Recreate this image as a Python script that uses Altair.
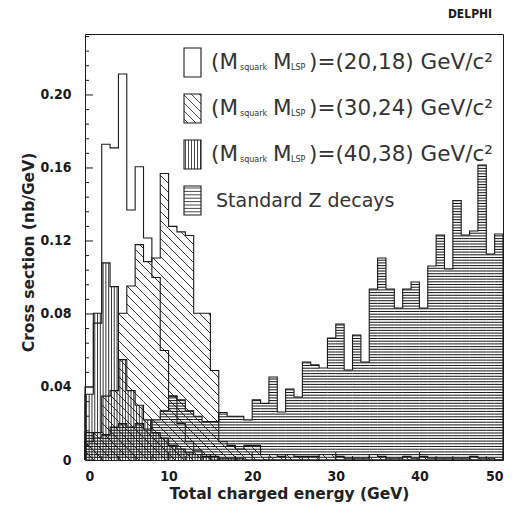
import altair as alt
import pandas as pd

# ---------------- data: cross section (nb/GeV) in 1 GeV bins starting at 0..49 GeV
bin_start = list(range(50))

z_decays = [0.015, 0.012, 0.014, 0.018, 0.020, 0.018, 0.020, 0.017, 0.022, 0.027,
            0.035, 0.033, 0.027, 0.024, 0.021, 0.021, 0.026, 0.024, 0.024, 0.022,
            0.033, 0.031, 0.0455, 0.0263, 0.0389, 0.0345, 0.0537, 0.0521, 0.0504, 0.0668,
            0.0745, 0.0493, 0.0685, 0.0537, 0.0937, 0.1107, 0.0937, 0.0833, 0.0937, 0.0975,
            0.0833, 0.1063, 0.1233, 0.1047, 0.1421, 0.1233, 0.1255, 0.1616, 0.1129, 0.1238]

sq_20_18 = [0.040, 0.075, 0.173, 0.171, 0.2115, 0.137, 0.1607, 0.1216, 0.100, 0.060,
            0.035, 0.020, 0.010, 0.005, 0.003, 0, 0, 0, 0, 0,
            0, 0, 0, 0, 0, 0, 0, 0, 0, 0,
            0, 0, 0, 0, 0, 0, 0, 0, 0, 0,
            0, 0, 0, 0, 0, 0, 0, 0, 0, 0]

sq_30_24 = [0.010, 0.015, 0.035, 0.038, 0.0804, 0.0953, 0.118, 0.1087, 0.1107, 0.157,
            0.128, 0.125, 0.123, 0.0804, 0.0804, 0.049, 0.010, 0.008, 0.006, 0.008,
            0.008, 0.003, 0.003, 0.002, 0.003, 0.002, 0.002, 0.002, 0.003, 0.003,
            0.002, 0.001, 0.001, 0.001, 0.003, 0.002, 0.001, 0.001, 0.002, 0.001,
            0.002, 0.001, 0.001, 0.001, 0.001, 0.001, 0.002, 0.001, 0.001, 0.0]

sq_40_38 = [0.036, 0.0804, 0.108, 0.095, 0.055, 0.038, 0.030, 0.022, 0.015, 0.012,
            0.008, 0.006, 0.004, 0.003, 0.002, 0.002, 0.001, 0.001, 0.001, 0,
            0, 0, 0, 0, 0, 0, 0, 0, 0, 0,
            0, 0, 0, 0, 0, 0, 0, 0, 0, 0,
            0, 0, 0, 0, 0, 0, 0, 0, 0, 0]

x_tick_values = [0, 10, 20, 30, 40, 50]
y_tick_values = [0, 0.04, 0.08, 0.12, 0.16, 0.20]
legend_masses = ["(20,18)", "(30,24)", "(40,38)"]
legend_z = "Standard Z decays"
x_title = "Total charged energy (GeV)"
y_title = "Cross section (nb/GeV)"
experiment = "DELPHI"

# ---------------- geometry / style
W, H = 418, 426
XMAX, YMAX = 50.0, 0.2334
SX, SY = W / XMAX, H / YMAX
PL, PT = 85, 34
AX_FONT = "'DejaVu Sans Condensed', 'Liberation Sans Narrow', 'DejaVu Sans', sans-serif"
TITLE_FONT = "'DejaVu Sans', sans-serif"
LEG_FONT = "'DejaVu Sans', sans-serif"
INK = "#1a1a1a"

xs = alt.Scale(domain=[0, XMAX], nice=False, zero=False)
ys = alt.Scale(domain=[0, YMAX], nice=False, zero=False)

X_AX = alt.Axis(
    values=x_tick_values, format="d", ticks=False, domain=False, grid=False,
    labelFont=AX_FONT, labelFontSize=14, labelFontWeight="bold", labelColor=INK,
    labelPadding=9, title=x_title, titleFont=TITLE_FONT, titleFontSize=15.5,
    titleFontWeight="bold", titleColor="#222", titleX=204, titleY=33,
    titleBaseline="middle")
Y_AX = alt.Axis(
    values=y_tick_values, labelExpr="datum.value == 0 ? '0' : format(datum.value, '.2f')",
    ticks=False, domain=False, grid=False,
    labelFont=AX_FONT, labelFontSize=14, labelFontWeight="bold", labelColor=INK,
    labelPadding=14, title=y_title, titleFont=TITLE_FONT, titleFontSize=15.5,
    titleFontWeight="bold", titleColor="#222", titleX=-57, titleY=218,
    titleBaseline="middle", titleAngle=-90)


def xe(f="x:Q"):
    return alt.X(f, scale=xs, axis=X_AX)


def ye(f="y:Q"):
    return alt.Y(f, scale=ys, axis=Y_AX)


def to_e(px):
    return (px - PL) / SX


def to_v(py):
    return (PT + H - py) / SY


def hatch(kind, u0, u1, w0, w1, sp):
    segs = []
    if kind == "h":
        k = int(w0 // sp) + 1
        while k * sp < w1 - 0.4:
            w = k * sp
            if w > w0 + 0.4:
                segs.append((u0, w, u1, w))
            k += 1
    elif kind == "v":
        k = int(u0 // sp)
        while (k + 0.5) * sp < u1:
            u = (k + 0.5) * sp
            if u > u0:
                segs.append((u, w0, u, w1))
            k += 1
    else:
        kmin = int((u0 + w0) // sp)
        kmax = int((u1 + w1) // sp) + 1
        for kk in range(kmin, kmax + 1):
            d = kk * sp
            lo = max(u0, d - w1)
            hi = min(u1, d - w0)
            if hi - lo > 0.3:
                segs.append((lo, d - lo, hi, d - hi))
    return [dict(x=a / SX, y=b / SY, x2=c / SX, y2=e / SY) for a, b, c, e in segs]


def hist_hatch(vals, kind, sp):
    rows = []
    for i, v in zip(bin_start, vals):
        if v > 0:
            rows += hatch(kind, i * SX, (i + 1) * SX, 0, v * SY, sp)
    return pd.DataFrame(rows)


def outline(vals):
    pts = [(0, 0)] + [(i, v) for i, v in zip(bin_start, vals)] + [(XMAX, vals[-1]), (XMAX, 0)]
    return pd.DataFrame({"o": list(range(len(pts))), "x": [p[0] for p in pts], "y": [p[1] for p in pts]})


def rule_layer(df, width=0.8, color=INK):
    return alt.Chart(df).mark_rule(color=color, strokeWidth=width).encode(
        x=xe(), y=ye(), x2="x2:Q", y2="y2:Q")


def outline_layer(vals, width=1.1):
    return alt.Chart(outline(vals)).mark_line(
        interpolate="step-after", color=INK, strokeWidth=width).encode(
        x=xe(), y=ye(), order="o:Q")


# inward ticks
tick_rows = []
k = 0
while k * 0.008 <= YMAX + 1e-9:
    ln = 8 if k % 5 == 0 else 4
    tick_rows.append(dict(x=0, x2=ln / SX, y=k * 0.008, y2=k * 0.008))
    k += 1
for k in range(0, 26):
    ln = 8 if k % 5 == 0 else 4
    tick_rows.append(dict(x=2 * k, x2=2 * k, y=0, y2=ln / SY))
ticks = rule_layer(pd.DataFrame(tick_rows), width=1)

# histograms
z_h = rule_layer(hist_hatch(z_decays, "h", 2.7), width=1.05)
v_h = rule_layer(hist_hatch(sq_40_38, "v", SX / 3), width=0.9)
d_h = rule_layer(hist_hatch(sq_30_24, "d", 9.0), width=0.9)

# legend
sw_x0, sw_x1 = 184, 201
row_top = [48, 94, 140, 186]
sw_h = 29
sw_kinds = [None, "d", "v", "h"]
sw_sp = [0, 8.0, 3.0, 3.4]
box_rows, leg_hatch = [], []
for r in range(4):
    y0, y1 = row_top[r], row_top[r] + sw_h
    box_rows.append(dict(x=to_e(sw_x0), x2=to_e(sw_x1), y=to_v(y1), y2=to_v(y0)))
    if sw_kinds[r]:
        u0, u1 = (sw_x0 - PL), (sw_x1 - PL)
        w0, w1 = (PT + H - y1), (PT + H - y0)
        leg_hatch += hatch(sw_kinds[r], u0, u1, w0, w1, sw_sp[r])
boxes = alt.Chart(pd.DataFrame(box_rows)).mark_rect(
    fill="white", fillOpacity=0, stroke=INK, strokeWidth=1.1).encode(
    x=xe(), x2="x2:Q", y=ye(), y2="y2:Q")
leg_h = rule_layer(pd.DataFrame(leg_hatch), width=0.8)

big_rows, small_rows, z_rows = [], [], []
for r in range(3):
    yc = row_top[r] + 15
    big_rows.append(dict(x=to_e(211), y=to_v(yc), t="(M"))
    small_rows.append(dict(x=to_e(240), y=to_v(yc + 5), t="squark"))
    big_rows.append(dict(x=to_e(273), y=to_v(yc), t="M"))
    small_rows.append(dict(x=to_e(291), y=to_v(yc + 5), t="LSP"))
    big_rows.append(dict(x=to_e(309), y=to_v(yc), t=")=" + legend_masses[r] + " GeV/c²"))
z_rows.append(dict(x=to_e(216), y=to_v(row_top[3] + 15), t=legend_z))


def text_layer(rows, size):
    return alt.Chart(pd.DataFrame(rows)).mark_text(
        align="left", baseline="middle", font=LEG_FONT, fontSize=size,
        color="#333").encode(x=xe(), y=ye(), text="t:N")


big_txt = text_layer(big_rows, 21.5)
z_txt = text_layer(z_rows, 19)
small_txt = text_layer(small_rows, 8)

delphi = alt.Chart(pd.DataFrame({"t": [experiment]})).mark_text(
    align="center", baseline="middle", font=AX_FONT, fontSize=12, fontWeight="bold",
    color=INK).encode(x=alt.value(385), y=alt.value(-20), text="t:N")

chart = alt.layer(
    z_h, v_h, d_h,
    outline_layer(z_decays), outline_layer(sq_40_38), outline_layer(sq_30_24),
    outline_layer(sq_20_18), ticks, boxes, leg_h, big_txt, z_txt, small_txt, delphi
).properties(
    width=W, height=H,
    autosize=alt.AutoSizeParams(type="none"),
    padding={"left": PL - 8, "top": PT - 8, "right": 3, "bottom": 50},
).configure_view(stroke=INK, strokeWidth=1)

chart.save("out.html", embed_options={"renderer": "svg", "actions": False})
